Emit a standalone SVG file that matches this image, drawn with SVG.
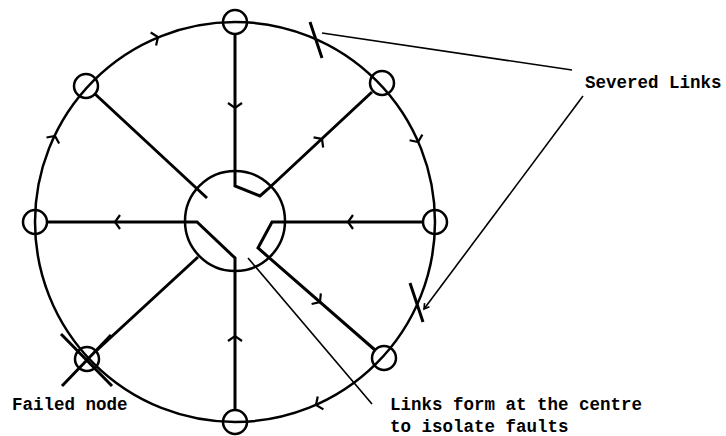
<svg xmlns="http://www.w3.org/2000/svg" width="726" height="436" viewBox="0 0 726 436">
<style>
.ring{fill:none;stroke:#000;stroke-width:2.5}
.node{fill:none;stroke:#000;stroke-width:2.5}
.spoke{fill:none;stroke:#000;stroke-width:3;stroke-linejoin:miter}
.thin{fill:none;stroke:#000;stroke-width:1.6}
.chev{fill:none;stroke:#000;stroke-width:2.2}
.lbl{font-family:"Liberation Mono","DejaVu Sans Mono",monospace;font-weight:bold;font-size:17.5px;fill:#000}
</style>
<defs>
<path id="chev" d="M-5,-7 L0,0 L-5,7"/>
<path id="tip" d="M-5,-3 L0,0 L-5,3"/>
</defs>
<rect width="726" height="436" fill="#fff"/>
<g id="ring">
<circle class="ring" cx="235" cy="222" r="200"/>
</g>
<g id="centre">
<circle class="ring" cx="235" cy="221" r="50"/>
</g>
<g id="connectors">
<path class="spoke" d="M235,34 L235,186 L260,196 L268,189 L372,92"/>
<path class="spoke" d="M47,222 L197,222 L235,258 L235,410"/>
<path class="spoke" d="M423,222 L272,222 L258,248 L375,350"/>
<path class="spoke" d="M95,94 L207,198"/>
<path class="spoke" d="M96,351 L198,257"/>
<g class="chev">
<use href="#chev" transform="translate(158,37) rotate(-22.6)"/>
<use href="#chev" transform="translate(55,136) rotate(-64.4)"/>
<use href="#chev" transform="translate(418,142) rotate(66.3)"/>
<use href="#chev" transform="translate(316,405) rotate(156.1)"/>
<use href="#chev" transform="translate(235,108) rotate(90)"/>
<use href="#chev" transform="translate(322,139) rotate(-43.3)"/>
<use href="#chev" transform="translate(115,222) rotate(180)"/>
<use href="#chev" transform="translate(348,222) rotate(180)"/>
<use href="#chev" transform="translate(320,302) rotate(41.1)"/>
<use href="#chev" transform="translate(235,336) rotate(-90)"/>
</g>
<path class="spoke" d="M310,22 L322,58"/>
<path class="spoke" d="M410,283 L423,322"/>
<path class="thin" d="M322,33 L572,70"/>
<path class="thin" d="M424,309 L583,96"/>
<use href="#tip" class="thin" transform="translate(424,309) rotate(126.7)"/>
<path class="thin" d="M248,258 L372,404"/>
</g>
<g id="node-top"><circle class="node" cx="235" cy="22" r="12"/></g>
<g id="node-topright"><circle class="node" cx="382" cy="83" r="12"/></g>
<g id="node-right"><circle class="node" cx="435" cy="222" r="12"/></g>
<g id="node-bottomright"><circle class="node" cx="384" cy="358" r="12"/></g>
<g id="node-bottom"><circle class="node" cx="235" cy="422" r="12"/></g>
<g id="node-bottomleft"><circle class="node" cx="87" cy="359" r="12"/>
<path class="spoke" d="M61,334 L112,386 M62,386 L111,335"/></g>
<g id="node-left"><circle class="node" cx="35" cy="222" r="12"/></g>
<g id="node-topleft"><circle class="node" cx="86" cy="86" r="12"/></g>
<g id="labels">
<text class="lbl" x="585" y="88">Severed Links</text>
<text class="lbl" x="12" y="410">Failed node</text>
<text class="lbl" x="390" y="410">Links form at the centre</text>
<text class="lbl" x="390" y="432">to isolate faults</text>
</g>
</svg>
